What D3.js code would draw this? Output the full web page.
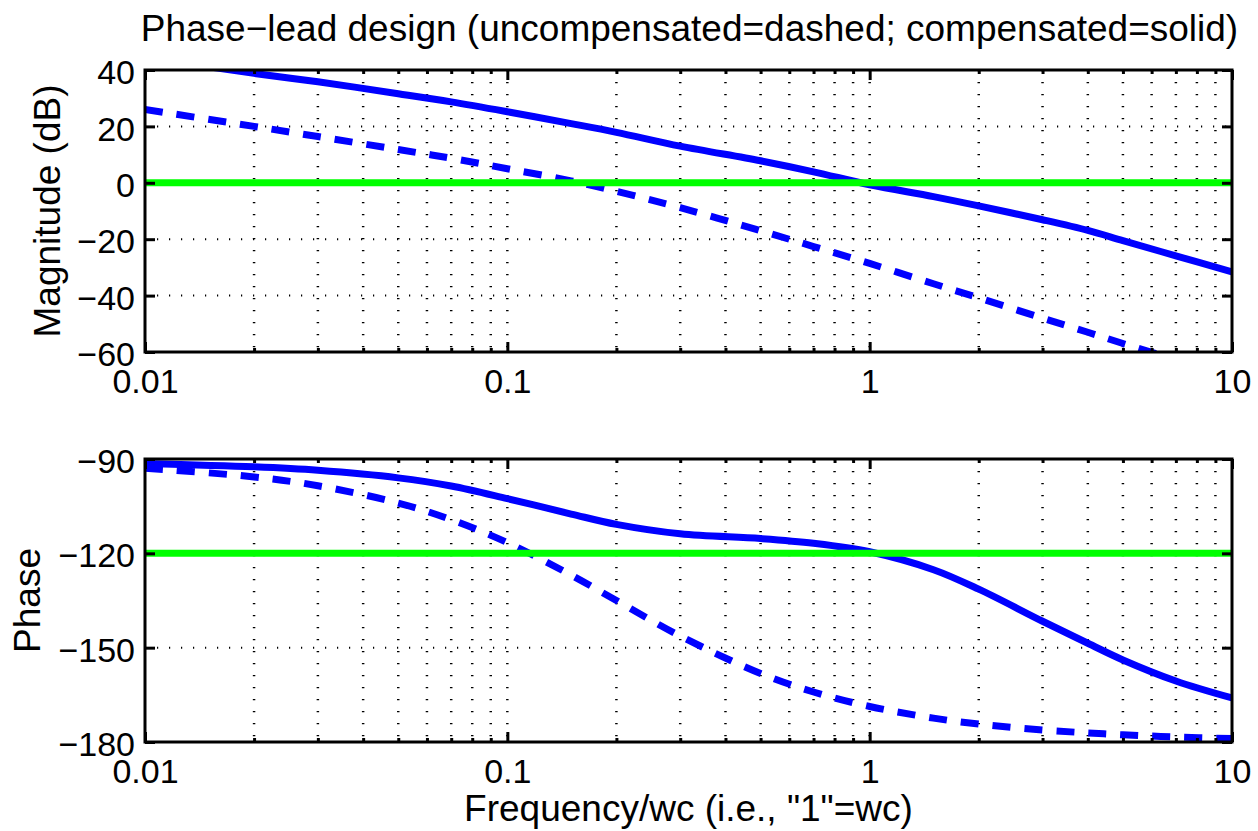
<!DOCTYPE html>
<html>
<head>
<meta charset="utf-8">
<script src="https://cdn.jsdelivr.net/npm/d3@7"></script>
<style>
body { margin: 0; background: #fff; }
svg { display: block; font-family: "Liberation Sans", Arial, Helvetica, sans-serif; }
</style>
</head>
<body>
<div id="chart"></div>
<script>
// frequency points (normalised to crossover wc)
const freq = [0.01, 0.02, 0.03, 0.05, 0.07, 0.1, 0.15, 0.2, 0.3, 0.5, 0.7, 1, 1.5, 2, 3, 4, 5, 7, 10];

// magnitude in dB
const magUncomp = [26.0, 20.0, 16.4, 11.8, 8.7, 5.0, 0.7, -3.0, -8.8, -17.0, -22.6, -28.6, -35.8, -40.8, -48.0, -53.0, -57.0, -62.8, -69.0];
const magComp = [44.5, 38.8, 35.8, 31.6, 28.7, 25.2, 21.0, 17.9, 13.0, 7.8, 3.9, -0.7, -4.9, -8.2, -13.1, -16.9, -20.5, -25.9, -31.6];

// phase in degrees
const phaseUncomp = [-92.9, -95.7, -98.5, -104.0, -109.3, -116.6, -126.9, -135.0, -146.3, -158.2, -164.1, -168.7, -172.4, -174.3, -176.2, -177.1, -177.7, -178.4, -178.9];
const phaseComp = [-91.4, -92.5, -93.6, -96.0, -98.6, -102.6, -107.5, -110.8, -113.8, -115.3, -116.8, -119.5, -125.2, -131.4, -141.6, -148.6, -153.9, -160.6, -166.0];

// design targets (green reference lines)
const magTarget = 0;
const phaseTarget = -120;

const freqTicks = [0.01, 0.1, 1, 10];
const freqTickLabels = ['0.01', '0.1', '1', '10'];
const magTicks = [40, 20, 0, -20, -40, -60];
const phaseTicks = [-90, -120, -150, -180];

const width = 1258, height = 831;
const plotLeft = 145, plotRight = 1232;

const svg = d3.select('#chart').append('svg')
    .attr('width', width)
    .attr('height', height);

const x = d3.scaleLog().domain([0.01, 10]).range([plotLeft, plotRight]);
const minorFreqs = x.ticks().filter(d => freqTicks.indexOf(d) < 0 && d > 0.01 && d < 10);

const fmt = d => String(d).replace('-', '\u2212');

function styleAxis(sel, size) {
    sel.attr('font-size', size).attr('font-family', null);
    sel.select('.domain').remove();
    sel.selectAll('.tick line').attr('stroke', '#000').attr('stroke-width', 3);
    sel.selectAll('.tick text').attr('fill', '#000');
}

function drawPanel(p) {
    const y = d3.scaleLinear().domain(p.domain).range([p.bottom, p.top]);
    const g = svg.append('g');

    g.append('clipPath').attr('id', p.id)
        .append('rect')
        .attr('x', plotLeft).attr('y', p.top)
        .attr('width', plotRight - plotLeft).attr('height', p.bottom - p.top);

    // dotted grid
    const grid = g.append('g');
    grid.selectAll('line.vx')
        .data(minorFreqs.concat(freqTicks.slice(1, -1)))
        .join('line')
        .attr('class', 'vx')
        .attr('x1', d => x(d)).attr('x2', d => x(d))
        .attr('y1', p.top).attr('y2', p.bottom)
        .attr('stroke', '#000').attr('stroke-width', 2.5)
        .attr('stroke-dasharray', '1.3,10.7');
    grid.selectAll('line.hy')
        .data(p.ticks.filter(d => d !== p.domain[0] && d !== p.domain[1]))
        .join('line')
        .attr('class', 'hy')
        .attr('x1', plotLeft).attr('x2', plotRight)
        .attr('y1', d => y(d)).attr('y2', d => y(d))
        .attr('stroke', '#000').attr('stroke-width', 2)
        .attr('stroke-dasharray', '1.2,10.8');

    const line = d3.line()
        .x((d, i) => x(freq[i]))
        .y(d => y(d))
        .curve(d3.curveCatmullRom.alpha(0.5));

    const data = g.append('g').attr('clip-path', `url(#${p.id})`);
    data.append('path')
        .attr('d', line(p.comp))
        .attr('fill', 'none').attr('stroke', '#0000ff').attr('stroke-width', 7);
    data.append('path')
        .attr('d', line(p.uncomp))
        .attr('fill', 'none').attr('stroke', '#0000ff').attr('stroke-width', 7)
        .attr('stroke-dasharray', '18,14');
    data.append('line')
        .attr('x1', x(0.01)).attr('x2', x(10))
        .attr('y1', y(p.target)).attr('y2', y(p.target))
        .attr('stroke', '#00ff00').attr('stroke-width', 7);

    // ticks on all four sides, pointing inward
    g.append('g').attr('transform', `translate(0,${p.bottom})`)
        .call(d3.axisBottom(x).tickValues(freqTicks)
            .tickFormat((d, i) => freqTickLabels[i])
            .tickSizeInner(-10).tickSizeOuter(0).tickPadding(17))
        .call(s => styleAxis(s, 34));
    g.append('g').attr('transform', `translate(0,${p.bottom})`)
        .call(d3.axisBottom(x).tickValues(minorFreqs).tickFormat('')
            .tickSizeInner(-4).tickSizeOuter(0))
        .call(s => styleAxis(s, 34));
    g.append('g').attr('transform', `translate(0,${p.top})`)
        .call(d3.axisTop(x).tickValues(freqTicks).tickFormat('')
            .tickSizeInner(-10).tickSizeOuter(0))
        .call(s => styleAxis(s, 34));
    g.append('g').attr('transform', `translate(0,${p.top})`)
        .call(d3.axisTop(x).tickValues(minorFreqs).tickFormat('')
            .tickSizeInner(-4).tickSizeOuter(0))
        .call(s => styleAxis(s, 34));
    g.append('g').attr('transform', `translate(${plotLeft},0)`)
        .call(d3.axisLeft(y).tickValues(p.ticks).tickFormat(fmt)
            .tickSizeInner(-10).tickSizeOuter(0).tickPadding(10))
        .call(s => styleAxis(s, 34))
        .call(s => s.selectAll('.tick text').attr('dy', '0.4em'));
    g.append('g').attr('transform', `translate(${plotRight},0)`)
        .call(d3.axisRight(y).tickValues(p.ticks).tickFormat('')
            .tickSizeInner(-10).tickSizeOuter(0))
        .call(s => styleAxis(s, 34));

    g.append('rect')
        .attr('x', plotLeft).attr('y', p.top)
        .attr('width', plotRight - plotLeft).attr('height', p.bottom - p.top)
        .attr('fill', 'none').attr('stroke', '#000').attr('stroke-width', 3);

    svg.append('text')
        .attr('transform', `translate(${p.labelX},${(p.top + p.bottom) / 2}) rotate(-90)`)
        .attr('text-anchor', 'middle')
        .attr('font-size', 37)
        .text(p.label);
}

drawPanel({
    id: 'clip-mag', top: 70, bottom: 352, domain: [-60, 40], ticks: magTicks,
    comp: magComp, uncomp: magUncomp, target: magTarget,
    label: 'Magnitude (dB)', labelX: 60
});

drawPanel({
    id: 'clip-phase', top: 459, bottom: 742, domain: [-180, -90], ticks: phaseTicks,
    comp: phaseComp, uncomp: phaseUncomp, target: phaseTarget,
    label: 'Phase', labelX: 40
});

svg.append('text')
    .attr('x', (plotLeft + plotRight) / 2 + 1).attr('y', 41)
    .attr('text-anchor', 'middle')
    .attr('font-size', 37)
    .text('Phase\u2212lead design (uncompensated=dashed; compensated=solid)');

svg.append('text')
    .attr('x', (plotLeft + plotRight) / 2).attr('y', 821)
    .attr('text-anchor', 'middle')
    .attr('font-size', 37)
    .text('Frequency/wc (i.e., "1"=wc)');
</script>
</body>
</html>
